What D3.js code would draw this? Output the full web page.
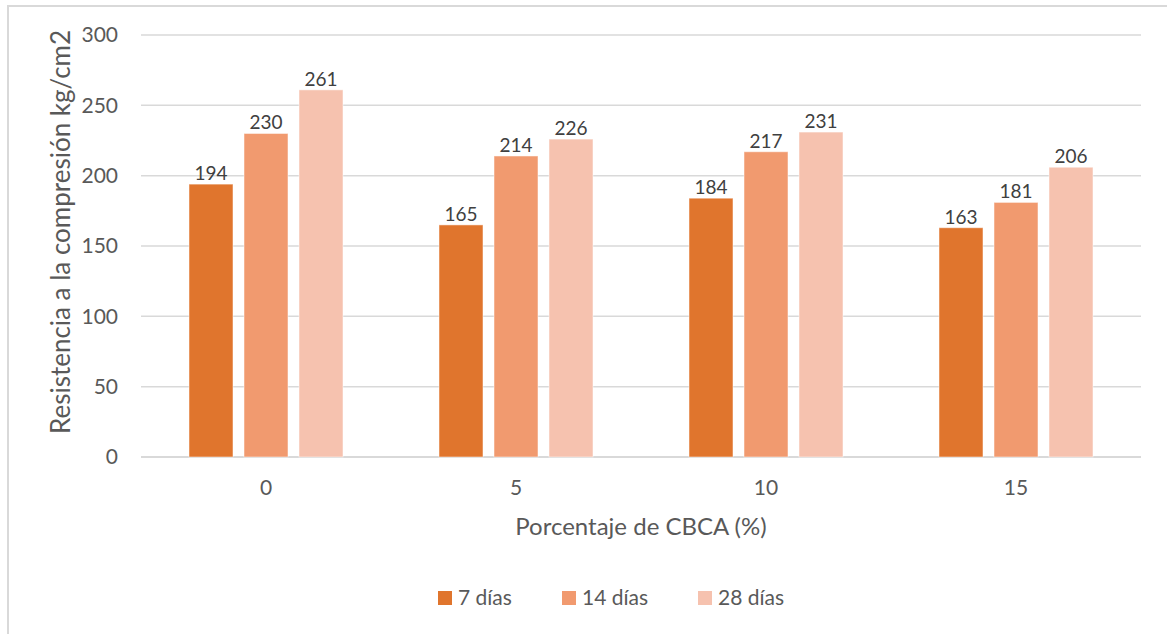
<!DOCTYPE html>
<html>
<head>
<meta charset="utf-8">
<script src="https://cdn.jsdelivr.net/npm/d3@7"></script>
<style>
  html, body { margin: 0; padding: 0; background: #fff; }
  svg { display: block; font-family: Lato, "Open Sans", sans-serif; }
</style>
</head>
<body>
<svg id="chart" width="1167" height="634"></svg>
<script>
// Compressive strength by CBCA percentage and curing age
const categories = ["0", "5", "10", "15"];
const seriesNames = ["7 días", "14 días", "28 días"];
const days7 = [194, 165, 184, 163];
const days14 = [230, 214, 217, 181];
const days28 = [261, 226, 231, 206];
const yTicks = [0, 50, 100, 150, 200, 250, 300];
const seriesColors = ["#E0752D", "#F19A6F", "#F6C2AF"];

const seriesValues = [days7, days14, days28];

const svg = d3.select("#chart");

// outer frame
svg.append("rect")
  .attr("x", 8).attr("y", 6)
  .attr("width", 1170).attr("height", 640)
  .attr("fill", "none")
  .attr("stroke", "#d9d9d9")
  .attr("stroke-width", 2);

const plot = { left: 141, right: 1141, top: 35, bottom: 457 };

const x = d3.scaleBand()
  .domain(categories)
  .range([plot.left, plot.right])
  .paddingInner(0.384)
  .paddingOuter(0.192);

const xs = d3.scaleBand()
  .domain(seriesNames)
  .range([0, x.bandwidth()])
  .paddingInner(0.2);

const y = d3.scaleLinear().domain([0, 300]).range([plot.bottom, plot.top]);

// gridlines
svg.append("g")
  .selectAll("line")
  .data(yTicks)
  .join("line")
  .attr("x1", plot.left).attr("x2", plot.right)
  .attr("y1", d => y(d)).attr("y2", d => y(d))
  .attr("stroke", "#d9d9d9")
  .attr("stroke-width", d => d === 0 ? 2 : 1.5);

// y tick labels
const yAxis = d3.axisLeft(y).tickValues(yTicks).tickSize(0).tickPadding(0);
const gy = svg.append("g").attr("transform", `translate(${118},0)`).call(yAxis);
gy.select(".domain").remove();
gy.selectAll("text")
  .attr("font-size", 21)
  .attr("fill", "#595959")
  .attr("font-family", "Lato, sans-serif");

// x tick labels
const xAxis = d3.axisBottom(x).tickSize(0).tickPadding(0);
const gx = svg.append("g").attr("transform", `translate(0,${495})`).call(xAxis);
gx.select(".domain").remove();
gx.selectAll("text")
  .attr("dy", 0)
  .attr("font-size", 21)
  .attr("fill", "#595959")
  .attr("font-family", "Lato, sans-serif");

// bars
const groups = svg.append("g")
  .selectAll("g")
  .data(categories)
  .join("g")
  .attr("transform", d => `translate(${x(d)},0)`);

groups.each(function(cat, ci) {
  const g = d3.select(this);
  seriesNames.forEach((s, si) => {
    const v = seriesValues[si][ci];
    g.append("rect")
      .attr("x", xs(s))
      .attr("y", y(v))
      .attr("width", xs.bandwidth())
      .attr("height", y(0) - y(v))
      .attr("fill", seriesColors[si])
      .attr("stroke", "#ffffff")
      .attr("stroke-opacity", 0.5)
      .attr("stroke-width", 1);
    g.append("text")
      .attr("x", xs(s) + xs.bandwidth() / 2)
      .attr("y", y(v) - 4)
      .attr("text-anchor", "middle")
      .attr("font-size", 19)
      .attr("fill", "#404040")
      .text(v);
  });
});

// axis titles
svg.append("text")
  .attr("transform", `translate(70,${232}) rotate(-90)`)
  .attr("text-anchor", "middle")
  .attr("font-size", 26)
  .attr("fill", "#595959")
  .text("Resistencia a la compresión kg/cm2");

svg.append("text")
  .attr("x", 641).attr("y", 535)
  .attr("text-anchor", "middle")
  .attr("font-size", 24)
  .attr("fill", "#595959")
  .text("Porcentaje de CBCA (%)");

// legend
const legendX = [438, 562, 698];
const legend = svg.append("g")
  .selectAll("g")
  .data(seriesNames)
  .join("g")
  .attr("transform", (d, i) => `translate(${legendX[i]},${591})`);
legend.append("rect")
  .attr("width", 14).attr("height", 14)
  .attr("fill", (d, i) => seriesColors[i]);
legend.append("text")
  .attr("x", 20).attr("y", 14)
  .attr("font-size", 21)
  .attr("fill", "#595959")
  .text(d => d);
</script>
</body>
</html>
